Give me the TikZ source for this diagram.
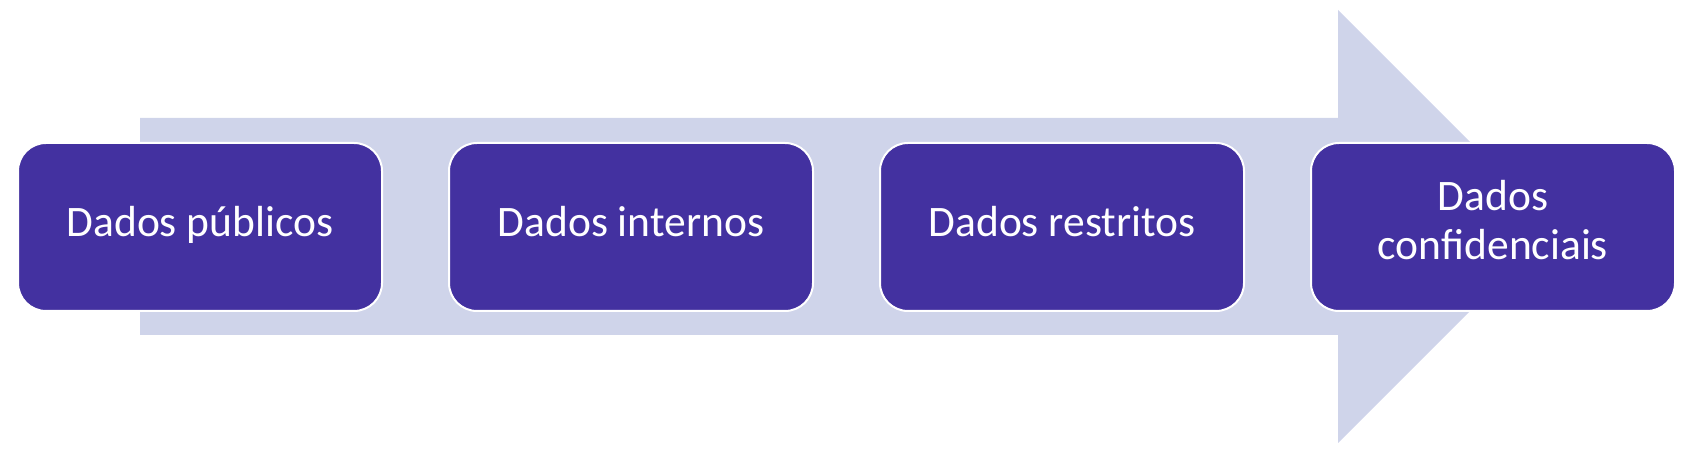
\documentclass[tikz,border=0pt]{standalone}
\usepackage{fontspec}
\setmainfont{Carlito}
\usetikzlibrary{positioning}
\definecolor{BoxPurple}{HTML}{4331A0}
\definecolor{ArrowLilac}{HTML}{CFD4EA}

\begin{document}
\begin{tikzpicture}[x=1pt,y=1pt,node distance=67pt,
  stage/.style={draw=white,line width=2pt,rounded corners=28pt,fill=BoxPurple,text=white,
    minimum width=364pt,minimum height=168pt,outer sep=0pt,align=center,
    font=\fontsize{43.5}{49}\selectfont,
    execute at begin node=\strut,execute at end node=\strut}]
  \useasboundingbox (0,0) rectangle (1692,455);
  % big arrow behind the boxes
  \fill[ArrowLilac] (140,120) -- (140,337) -- (1338,337) -- (1338,445)
    -- (1554.5,228.5) -- (1338,12) -- (1338,120) -- cycle;
  \node[stage] (pub) at (200,228) {Dados públicos};
  \node[stage,right=of pub] (int) {Dados internos};
  \node[stage,right=of int] (res) {Dados restritos};
  \node[stage,right=of res] (conf) {Dados\\confidenciais};
\end{tikzpicture}
\end{document}
